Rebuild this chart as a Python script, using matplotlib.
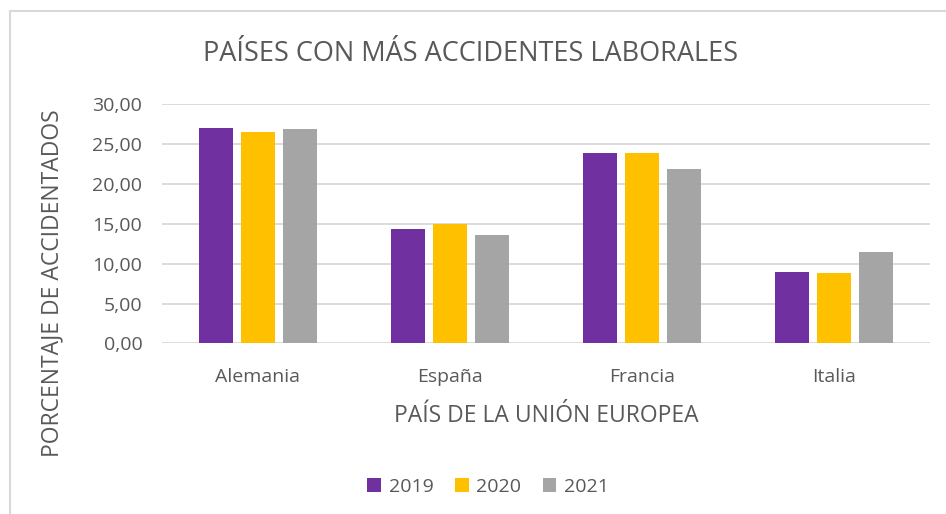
import matplotlib.pyplot as plt
from matplotlib.lines import Line2D
import numpy as np

paises = ["Alemania", "España", "Francia", "Italia"]
anios = ["2019", "2020", "2021"]
v2019 = [27.03, 14.31, 23.85, 9.00]
v2020 = [26.57, 14.98, 23.85, 8.83]
v2021 = [26.86, 13.64, 21.88, 11.42]
colores = ["#7030A0", "#FFC000", "#A5A5A5"]

plt.rcParams['font.family'] = ['Open Sans', 'DejaVu Sans']
gris = "#595959"

fig = plt.figure(figsize=(9.46, 5.14), dpi=100)
ax = fig.add_axes([0.171, 0.332, 0.812, 0.465])

x = np.arange(len(paises))
ancho = 0.177
paso = 0.218
for i, (vals, col) in enumerate(zip([v2019, v2020, v2021], colores)):
    ax.bar(x + (i - 1) * paso, vals, ancho, color=col, label=anios[i], zorder=3)

ax.set_xlim(-0.5, 3.5)
ax.set_ylim(0, 30)
ax.set_yticks(np.arange(0, 31, 5))
ax.set_yticklabels([f"{v:.2f}".replace(".", ",") for v in np.arange(0, 31, 5)])
ax.set_xticks(x)
ax.set_xticklabels(paises)
ax.grid(axis="y", color="#D9D9D9", linewidth=1.3, zorder=0)
for s in ax.spines.values():
    s.set_visible(False)
ax.tick_params(length=0, colors=gris, labelsize=14)
ax.tick_params(axis="y", pad=14)
ax.tick_params(axis="x", pad=18)

ax.set_xlabel("PAÍS DE LA UNIÓN EUROPEA", color=gris, fontsize=16.5)
ax.xaxis.set_label_coords(0.5, -0.255)
ax.set_ylabel("PORCENTAJE DE ACCIDENTADOS", color=gris, fontsize=16.5)
ax.yaxis.set_label_coords(-0.127, 0.25)

fig.text(0.497, 0.895, "PAÍSES CON MÁS ACCIDENTES LABORALES", ha="center", va="center",
         color=gris, fontsize=19.5)

ax.legend(loc="center", bbox_to_anchor=(0.425, -0.6), ncol=3, frameon=False,
          fontsize=14, labelcolor=gris, handlelength=0.7, handleheight=0.7,
          columnspacing=1.1, handletextpad=0.4)

fig.add_artist(Line2D([0.011, 0.011], [0, 0.979], color="#D9D9D9", linewidth=1.5))
fig.add_artist(Line2D([0.011, 1], [0.979, 0.979], color="#D9D9D9", linewidth=1.5))

fig.savefig("out.png", dpi=100)
